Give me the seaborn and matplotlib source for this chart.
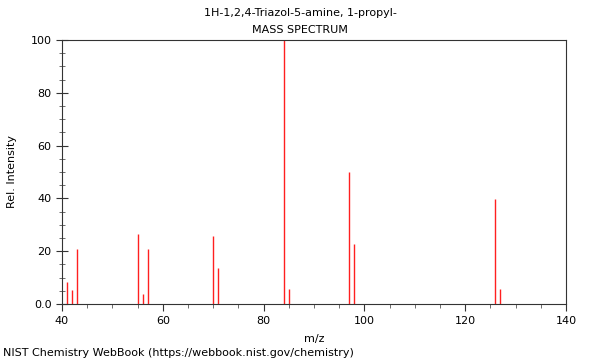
import matplotlib
matplotlib.use("Agg")
import matplotlib.pyplot as plt
import seaborn as sns
from matplotlib.ticker import MultipleLocator, FixedLocator, FixedFormatter

mz = [41, 42, 43, 55, 56, 57, 70, 71, 84, 85, 97, 98, 126, 127]
intensity = [8.5, 5.2, 20.8, 26.4, 3.8, 20.8, 25.7, 13.6, 100, 5.8, 50.0, 22.7, 39.8, 5.8]
title_lines = ["1H-1,2,4-Triazol-5-amine, 1-propyl-", "MASS SPECTRUM"]
x_ticks = [40, 60, 80, 100, 120, 140]
y_ticks = [0, 20, 40, 60, 80, 100]
y_tick_labels = ["0.0", "20", "40", "60", "80", "100"]

sns.set_style("ticks")
plt.rcParams['font.family'] = ['DejaVu Sans']
plt.rcParams['text.color'] = 'black'
plt.rcParams['axes.labelcolor'] = 'black'
plt.rcParams['xtick.color'] = 'black'
plt.rcParams['ytick.color'] = 'black'

fig = plt.figure(figsize=(6, 3.6), dpi=100)
ax = fig.add_axes([62/600, 56/360, 504/600, 264/360])

ax.vlines(mz, 0, intensity, colors="#ff2020", linewidth=1.0)

ax.set_xlim(40, 140)
ax.set_ylim(0, 100)
ax.xaxis.set_major_locator(FixedLocator(x_ticks))
ax.xaxis.set_minor_locator(MultipleLocator(5))
ax.yaxis.set_major_locator(FixedLocator(y_ticks))
ax.yaxis.set_major_formatter(FixedFormatter(y_tick_labels))
ax.yaxis.set_minor_locator(MultipleLocator(5))
ax.tick_params(axis="x", which="major", labelsize=8, length=5, width=0.8,
               direction="out", color="#333333", labelcolor="black")
ax.tick_params(axis="y", which="major", labelsize=8, length=8, width=0.8,
               direction="inout", color="#333333", labelcolor="black")
ax.tick_params(axis="x", which="minor", length=3, width=0.6,
               direction="out", color="#555555")
ax.tick_params(axis="y", which="minor", length=5, width=0.6,
               direction="inout", color="#555555")
for s in ax.spines.values():
    s.set_visible(True)
    s.set_linewidth(0.8)
    s.set_color("#333333")

ax.set_xlabel("m/z", fontsize=8, labelpad=6)
ax.set_ylabel("Rel. Intensity", fontsize=8, labelpad=10)

fig.text(0.5, 1 - 13/360, title_lines[0], ha="center", va="center", fontsize=8)
fig.text(0.5, 1 - 30/360, title_lines[1], ha="center", va="center", fontsize=8)
fig.text(3/600, 1 - 353/360, "NIST Chemistry WebBook (https://webbook.nist.gov/chemistry)",
         ha="left", va="center", fontsize=8)

fig.savefig("out.png", dpi=100)
